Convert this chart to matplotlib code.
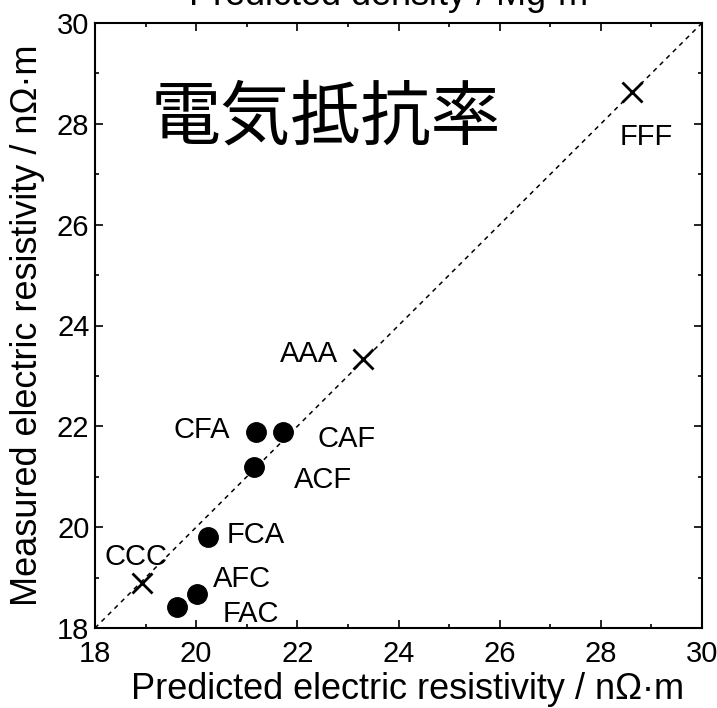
import matplotlib
matplotlib.use("Agg")
import matplotlib.pyplot as plt
from matplotlib.ticker import MultipleLocator

plt.rcParams['font.family'] = ['Liberation Sans', 'DejaVu Sans']
plt.rcParams['mathtext.fontset'] = 'custom'
plt.rcParams['mathtext.rm'] = 'Liberation Sans'

# Data
cross_labels = ["FFF", "AAA", "CCC"]
cross_pred = [28.62, 23.30, 18.93]
cross_meas = [28.64, 23.33, 18.89]

circ_labels = ["CFA", "CAF", "ACF", "FCA", "AFC", "FAC"]
circ_pred = [21.18, 21.72, 21.14, 20.23, 20.02, 19.62]
circ_meas = [21.89, 21.89, 21.19, 19.80, 18.67, 18.41]

# label positions (data coords, baseline) and alignment
label_pos = {
    "FFF": (28.38, 27.58, 'left'),
    "AAA": (22.80, 23.28, 'right'),
    "CCC": (19.44, 19.25, 'right'),
    "CFA": (20.67, 21.77, 'right'),
    "CAF": (22.39, 21.59, 'left'),
    "ACF": (21.93, 20.78, 'left'),
    "FCA": (20.61, 19.69, 'left'),
    "AFC": (20.33, 18.81, 'left'),
    "FAC": (20.53, 18.12, 'left'),
}

lims = [18, 30]

fig = plt.figure(figsize=(7.17, 7.08), dpi=100)
ax = fig.add_axes([95 / 717, 1 - 628 / 708, 607 / 717, 605 / 708])

ax.plot(lims, lims, color='black', lw=1.1, ls=(0, (3, 3)), zorder=1)
ax.plot(cross_pred, cross_meas, ls='none', marker='x', ms=14, mew=2.0,
        color='black', zorder=3)
ax.plot(circ_pred, circ_meas, ls='none', marker='o', ms=14,
        color='black', zorder=3)

for lab in cross_labels + circ_labels:
    x, y, ha = label_pos[lab]
    ax.text(x, y, lab, fontsize=21, ha=ha, va='baseline', color='black')

ax.text(0.0914, 0.841, "電気抵抗率", transform=ax.transAxes, fontsize=50.5,
        family=['Noto Sans CJK JP', 'DejaVu Sans'], ha='left', va='center')

ax.set_xlim(lims)
ax.set_ylim(lims)
ax.xaxis.set_major_locator(MultipleLocator(2))
ax.yaxis.set_major_locator(MultipleLocator(2))
ax.xaxis.set_minor_locator(MultipleLocator(1))
ax.yaxis.set_minor_locator(MultipleLocator(1))
ax.tick_params(which='both', direction='in', top=True, right=True,
               width=1.2, labelsize=21)
ax.tick_params(axis='x', which='both', pad=8.5)
ax.tick_params(axis='y', which='both', pad=4)
ax.tick_params(which='major', length=6)
ax.tick_params(which='minor', length=3)
for s in ax.spines.values():
    s.set_linewidth(1.5)

ax.set_xlabel("Predicted electric resistivity / nΩ·m", fontsize=26)
ax.xaxis.label.set_va('baseline')
ax.xaxis.set_label_coords((408 - 95) / 607, -(699 - 628) / 605)
ax.set_ylabel("Measured electric resistivity / nΩ·m", fontsize=26, labelpad=8.5)

fig.text(188 / 717, 1 - 6 / 708, "Predicted density / Mg·m$^{-3}$", fontsize=26,
         ha='left', va='baseline')

fig.savefig("out.png", dpi=100)
